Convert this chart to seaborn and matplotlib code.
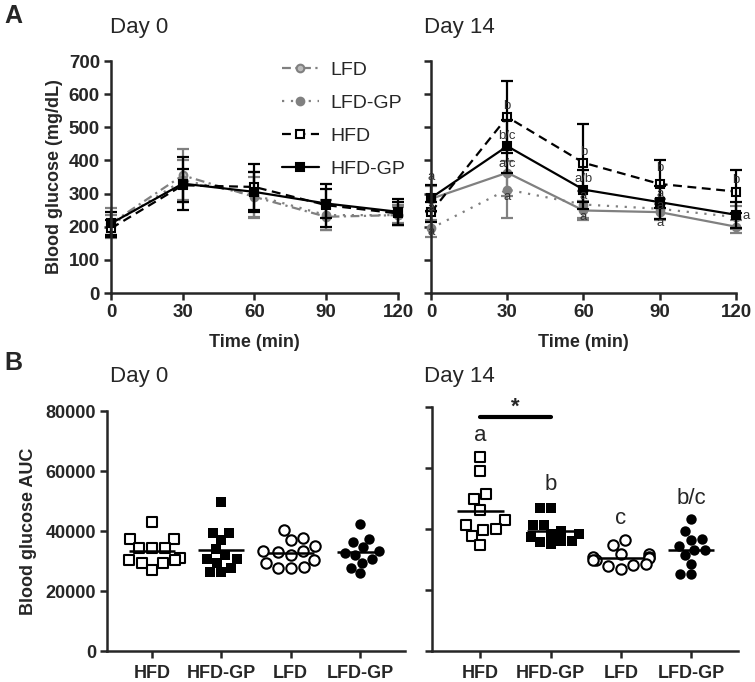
import numpy as np
import pandas as pd
import seaborn as sns
import matplotlib.pyplot as plt

# =============================================================================
# DATA
times = [0, 30, 60, 90, 120]
series = ['LFD', 'LFD-GP', 'HFD', 'HFD-GP']

# day 0 means / SD (mg/dL)
d0_lfd = [210, 355, 290, 230, 235]
d0_lfd_sd = [45, 80, 60, 40, 25]
d0_lfdgp = [205, 340, 295, 235, 235]
d0_lfdgp_sd = [30, 60, 70, 45, 30]
d0_hfd = [195, 325, 320, 265, 240]
d0_hfd_sd = [25, 50, 70, 65, 35]
d0_hfdgp = [210, 330, 305, 270, 245]
d0_hfdgp_sd = [35, 80, 60, 45, 40]

# day 14 means / SD
d14_lfd = [284, 363, 249, 244, 200]
d14_lfd_sd = [40, 70, 30, 25, 20]
d14_lfdgp = [195, 312, 267, 254, 229]
d14_lfdgp_sd = [25, 85, 40, 30, 35]
d14_hfd = [244, 531, 393, 329, 306]
d14_hfd_sd = [30, 108, 117, 73, 64]
d14_hfdgp = [287, 443, 312, 274, 236]
d14_hfdgp_sd = [40, 80, 60, 50, 40]

# significance letters day 14 (time, y, label)
d14_letters = [(0, 350, 'a'), (0, 255, 'a'), (0, 185, 'a'),
               (30, 565, 'b'), (30, 475, 'b/c'), (30, 390, 'a/c'), (30, 290, 'a'),
               (60, 425, 'b'), (60, 345, 'a/b'), (60, 292, 'a'), (60, 228, 'a'),
               (90, 378, 'b'), (90, 298, 'a'), (90, 262, 'a'), (90, 212, 'a'),
               (120, 340, 'b'), (124, 232, 'a')]

groups = ['HFD', 'HFD-GP', 'LFD', 'LFD-GP']
auc0_hfd = [43000, 37500, 37500, 34500, 34500, 34500, 31000, 30500, 30500, 29500, 29500, 27000]
auc0_hfdgp = [49700, 39400, 39400, 37000, 34000, 32000, 30700, 30700, 29500, 27800, 26300, 26300]
auc0_lfd = [40500, 37800, 36900, 34900, 33400, 33400, 33000, 32000, 30500, 29500, 28000, 27800, 27800]
auc0_lfdgp = [42200, 37500, 36400, 34700, 33400, 32800, 32100, 30800, 29400, 27800, 26000]

auc14_hfd = [63600, 59000, 51600, 49700, 46100, 43000, 41400, 40000, 39800, 37700, 34600]
auc14_hfdgp = [46900, 46900, 41200, 41200, 39500, 38500, 38500, 37500, 36000, 36000, 35700, 35000]
auc14_lfd = [36300, 34900, 31700, 31700, 30800, 30800, 30500, 29700, 29700, 28500, 28100, 28000, 27000]
auc14_lfdgp = [43200, 39200, 36600, 36300, 34400, 33000, 33000, 31400, 28600, 25100, 25100]
auc14_letters = ['a', 'b', 'c', 'b/c']
auc14_letter_y = [70800, 54700, 43600, 50100]

# =============================================================================
sns.set_style('ticks')
plt.rcParams['font.family'] = ['Liberation Sans', 'DejaVu Sans']
plt.rcParams['axes.linewidth'] = 1.8

fig = plt.figure(figsize=(7.55, 6.82), dpi=100)
W, H = 755, 682
def box(x0, x1, ytop, ybot):
    return [x0 / W, 1 - ybot / H, (x1 - x0) / W, (ybot - ytop) / H]

axA0 = fig.add_axes(box(111, 398, 61, 293))
axA1 = fig.add_axes(box(431, 736, 61, 293))
axB0 = fig.add_axes(box(107, 405, 411, 651))
axB1 = fig.add_axes(box(432, 738, 407, 651))

grey = '#808080'
styles = {
    'LFD': dict(color=grey, ls=(0, (4, 2, 1, 2)), marker='o', mfc='#bbbbbb'),
    'LFD-GP': dict(color=grey, ls=(0, (1, 3)), marker='o', mfc=grey),
    'HFD': dict(color='black', ls=(0, (4, 2.5)), marker='s', mfc='white'),
    'HFD-GP': dict(color='black', ls='-', marker='s', mfc='black'),
}
TICK = 13.5

def draw_curves(ax, means, sds, day14=False):
    for name, m, sd in zip(series, means, sds):
        st = dict(styles[name])
        if day14 and name == 'LFD':
            st['ls'] = '-'
            st['mfc'] = grey
        sns.lineplot(x=times, y=m, ax=ax, color=st['color'], linestyle=st['ls'],
                     marker=st['marker'], markersize=5.5, markerfacecolor=st['mfc'],
                     markeredgecolor=st['color'], markeredgewidth=1.5, lw=1.6,
                     label=name, legend=False)
        ax.errorbar(times, m, yerr=sd, fmt='none', ecolor=st['color'],
                    elinewidth=1.6, capsize=4, capthick=1.6)
    ax.set_xlim(0, 120)
    ax.set_ylim(0, 700)
    ax.set_xticks(times)
    ax.set_yticks(range(0, 701, 100))
    ax.set_xlabel('Time (min)', fontsize=13, fontweight='bold', labelpad=9)
    sns.despine(ax=ax)
    ax.tick_params(width=1.8, length=5, labelsize=TICK, pad=3)
    for t in ax.get_xticklabels() + ax.get_yticklabels():
        t.set_fontweight('bold')
    for a in ax.lines + ax.collections:
        a.set_clip_on(False)

draw_curves(axA0, [d0_lfd, d0_lfdgp, d0_hfd, d0_hfdgp],
            [d0_lfd_sd, d0_lfdgp_sd, d0_hfd_sd, d0_hfdgp_sd])
draw_curves(axA1, [d14_lfd, d14_lfdgp, d14_hfd, d14_hfdgp],
            [d14_lfd_sd, d14_lfdgp_sd, d14_hfd_sd, d14_hfdgp_sd], day14=True)
axA0.set_ylabel('Blood glucose (mg/dL)', fontsize=13, fontweight='bold', labelpad=4)
axA1.set_ylabel('')
axA1.set_yticklabels([])
for tx, ty, lab in d14_letters:
    axA1.text(tx, ty, lab, ha='center', va='center', fontsize=9.5, color='#333333')

leg = axA0.legend(loc='upper left', bbox_to_anchor=(0.595, 1.0), frameon=False,
                  fontsize=14, handlelength=1.9, labelspacing=0.8, handletextpad=0.6,
                  borderpad=0, borderaxespad=0)

# panel B
def draw_auc(ax, data_lists):
    mk = [dict(marker='s', color='white', edgecolor='black', linewidth=1.5),
          dict(marker='s', color='black', edgecolor='black', linewidth=0),
          dict(marker='o', color='white', edgecolor='black', linewidth=1.5),
          dict(marker='o', color='black', edgecolor='black', linewidth=0)]
    for g, vals, kw in zip(groups, data_lists, mk):
        df = pd.DataFrame({'group': g, 'auc': vals})
        sns.swarmplot(data=df, x='group', y='auc', order=groups, ax=ax, size=7.5, **kw)
        i = groups.index(g)
        ax.hlines(np.mean(vals), i - 0.33, i + 0.33, color='black', lw=1.8, zorder=5)
    ax.set_ylim(0, 80000)
    ax.set_yticks(range(0, 80001, 20000))
    ax.set_xlabel('')
    ax.set_ylabel('')
    sns.despine(ax=ax)
    ax.tick_params(width=1.8, length=5, labelsize=13, pad=3)
    ax.tick_params(axis='x', pad=5)
    for t in ax.get_xticklabels() + ax.get_yticklabels():
        t.set_fontweight('bold')

draw_auc(axB0, [auc0_hfd, auc0_hfdgp, auc0_lfd, auc0_lfdgp])
axB0.set_xlim(-0.65, 3.65)
axB0.set_ylabel('Blood glucose AUC', fontsize=13, fontweight='bold', labelpad=6)
draw_auc(axB1, [auc14_hfd, auc14_hfdgp, auc14_lfd, auc14_lfdgp])
axB1.set_xlim(-0.69, 3.67)
axB1.set_yticklabels([])
for i, (lab, yy) in enumerate(zip(auc14_letters, auc14_letter_y)):
    axB1.text(i, yy, lab, ha='center', va='center', fontsize=16)
axB1.plot([0, 1], [76700, 76700], color='black', lw=3, clip_on=False)
axB1.text(0.5, 80000, '*', ha='center', va='center', fontsize=16, fontweight='bold')

# titles and panel letters
fig.text(110 / W, 1 - 28 / H, 'Day 0', fontsize=16, va='center')
fig.text(424 / W, 1 - 28 / H, 'Day 14', fontsize=16, va='center')
fig.text(110 / W, 1 - 377 / H, 'Day 0', fontsize=16, va='center')
fig.text(424 / W, 1 - 377 / H, 'Day 14', fontsize=16, va='center')
fig.text(4 / W, 1 - 16 / H, 'A', fontsize=18, fontweight='bold', va='center')
fig.text(4 / W, 1 - 363 / H, 'B', fontsize=18, fontweight='bold', va='center')

plt.savefig('out.png', dpi=100)
